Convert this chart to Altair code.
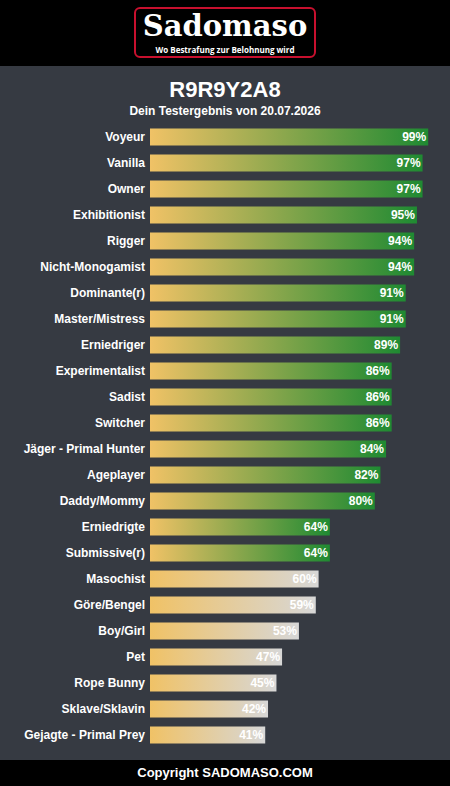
import altair as alt
import pandas as pd

# Test result categories and their scores (percent)
labels = [
    "Voyeur", "Vanilla", "Owner", "Exhibitionist", "Rigger", "Nicht-Monogamist",
    "Dominante(r)", "Master/Mistress", "Erniedriger", "Experimentalist", "Sadist",
    "Switcher", "Jäger - Primal Hunter", "Ageplayer", "Daddy/Mommy", "Erniedrigte",
    "Submissive(r)", "Masochist", "Göre/Bengel", "Boy/Girl", "Pet", "Rope Bunny",
    "Sklave/Sklavin", "Gejagte - Primal Prey",
]
scores = [99, 97, 97, 95, 94, 94, 91, 91, 89, 86, 86, 86, 84, 82, 80, 64, 64,
          60, 59, 53, 47, 45, 42, 41]
threshold = 64

title_text = "R9R9Y2A8"
subtitle_text = "Dein Testergebnis von 20.07.2026"
logo_text = "Sadomaso"
slogan_text = "Wo Bestrafung zur Belohnung wird"
footer_text = "Copyright SADOMASO.COM"

df = pd.DataFrame({"label": labels, "score": scores})
df["pct"] = df["score"].astype(str) + "%"

W, H = 450, 786
BG = "#363a42"
FONT = "Liberation Sans"

x_scale = alt.Scale(domain=[0, 100], range=[150, 431])
x_enc = alt.X("score:Q", scale=x_scale, axis=None)
y_enc = alt.Y(
    "label:N", sort=labels, axis=None,
    scale=alt.Scale(range=[124, 748], paddingInner=0.35, paddingOuter=0.175),
)

def grad(end):
    return alt.LinearGradient(
        gradient="linear", x1=0, x2=1, y1=0, y2=0,
        stops=[alt.GradientStop(color="#f0c266", offset=0),
               alt.GradientStop(color=end, offset=1)],
    )

base = alt.Chart(df)

def bars(test, end_color):
    return base.transform_filter(test).transform_calculate(zero="0").mark_bar(
        color=grad(end_color)
    ).encode(x=alt.X("zero:Q", scale=x_scale, axis=None), x2="score:Q", y=y_enc)

high_bars = bars(f"datum.score >= {threshold}", "#1f8a32")
low_bars = bars(f"datum.score < {threshold}", "#d7d7d7")

cat_text = base.mark_text(
    align="right", baseline="middle", font=FONT, fontSize=12, fontWeight="bold", color="white"
).encode(x=alt.value(145), y=y_enc, text="label:N")

pct_text = base.mark_text(
    align="right", baseline="middle", font=FONT, fontSize=12, fontWeight="bold",
    color="white", dx=-2
).encode(x=x_enc, y=y_enc, text="pct:N")

one = alt.Data(values=[{}])

header = alt.Chart(one).mark_rect(color="black").encode(
    x=alt.value(0), x2=alt.value(W), y=alt.value(0), y2=alt.value(66))
footer = alt.Chart(one).mark_rect(color="black").encode(
    x=alt.value(0), x2=alt.value(W), y=alt.value(760), y2=alt.value(H))

logo_box = alt.Chart(one).mark_rect(
    fill="black", stroke="#c8102e", strokeWidth=2, cornerRadius=5
).encode(x=alt.value(135), x2=alt.value(315), y=alt.value(8), y2=alt.value(57))

logo = alt.Chart(one).mark_text(
    text=logo_text, font="DejaVu Serif", fontSize=29, fontWeight="bold",
    color="white", align="center", baseline="middle"
).encode(x=alt.value(225), y=alt.value(27))

slogan = alt.Chart(one).mark_text(
    text=slogan_text, font="Open Sans", fontSize=8, fontWeight="bold",
    color="white", align="center", baseline="middle"
).encode(x=alt.value(225), y=alt.value(51))

title = alt.Chart(one).mark_text(
    text=title_text, font=FONT, fontSize=22, fontWeight="bold",
    color="white", align="center", baseline="middle"
).encode(x=alt.value(225), y=alt.value(90))

subtitle = alt.Chart(one).mark_text(
    text=subtitle_text, font=FONT, fontSize=12, fontWeight="bold",
    color="white", align="center", baseline="middle"
).encode(x=alt.value(225), y=alt.value(111))

footer_label = alt.Chart(one).mark_text(
    text=footer_text, font=FONT, fontSize=13, fontWeight="bold",
    color="white", align="center", baseline="middle"
).encode(x=alt.value(225), y=alt.value(773))

chart = alt.layer(
    header, footer, logo_box, logo, slogan, title, subtitle,
    high_bars, low_bars, cat_text, pct_text, footer_label,
).properties(
    width=W, height=H, background=BG, padding=0,
    autosize=alt.AutoSizeParams(type="none"),
).configure_view(stroke=None)

chart.save("out.html", embed_options={"renderer": "svg", "actions": False})
